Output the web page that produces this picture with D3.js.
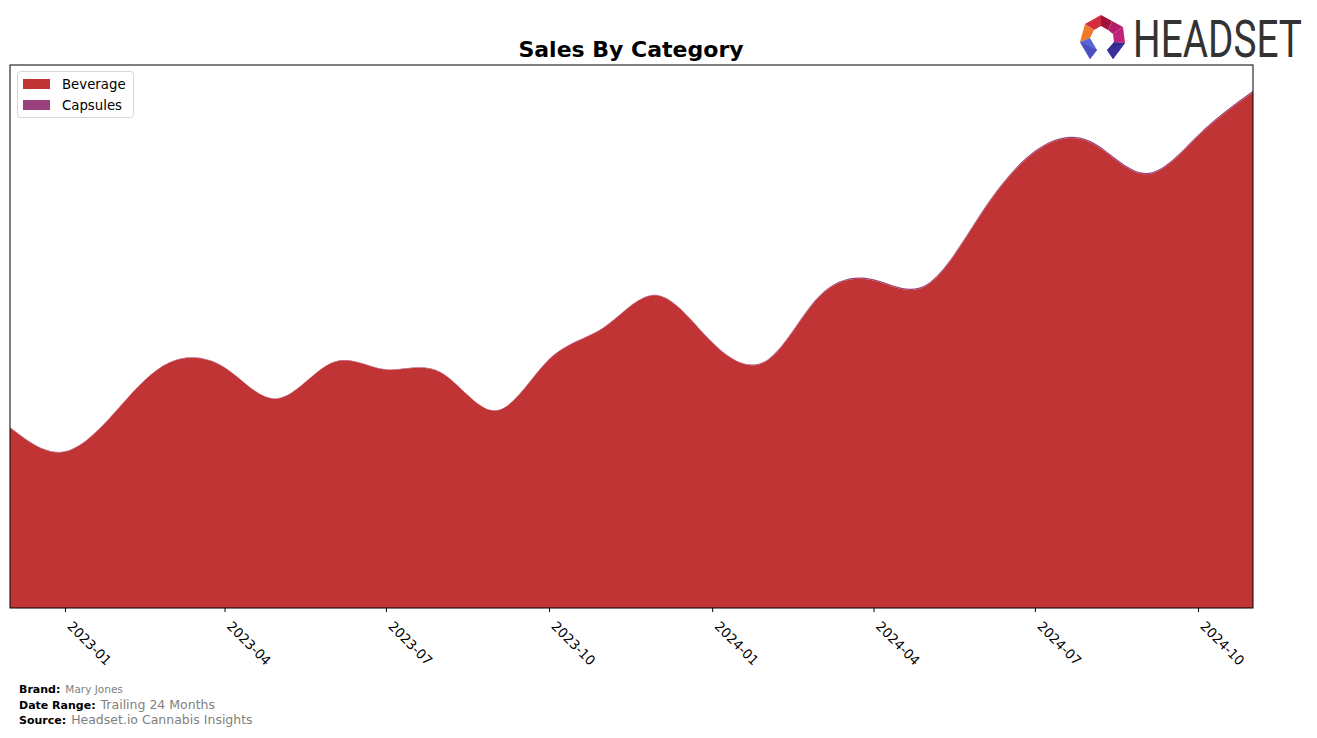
<!DOCTYPE html>
<html>
<head>
<meta charset="utf-8">
<script src="https://cdn.jsdelivr.net/npm/d3@7"></script>
<style>
  html, body { margin: 0; padding: 0; background: #fff; }
  svg { display: block; font-family: "DejaVu Sans", sans-serif; }
</style>
</head>
<body>
<svg id="chart" width="1317" height="738"></svg>
<script>
// ---- data ----
const months = ["2022-12","2023-01","2023-02","2023-03","2023-04","2023-05","2023-06","2023-07",
  "2023-08","2023-09","2023-10","2023-11","2023-12","2024-01","2024-02","2024-03","2024-04",
  "2024-05","2024-06","2024-07","2024-08","2024-09","2024-10","2024-11"];
const categories = ["Beverage", "Capsules"];
const beverage = [180, 156, 201, 245, 240, 209, 245, 238, 235, 197, 248, 280, 312, 265, 247, 310, 327,
  322, 394, 455, 465, 433, 471, 515];
const capsules = [0.4, 0.4, 0.4, 0.4, 0.4, 0.4, 0.4, 0.4, 0.4, 0.4, 0.5, 0.5, 0.6, 0.6, 0.7, 0.9, 1.2,
  1.2, 1.3, 1.4, 1.4, 1.3, 1.3, 1.3];
const tickLabels = ["2023-01","2023-04","2023-07","2023-10","2024-01","2024-04","2024-07","2024-10"];
const colors = ["#c03435", "#9a417d"];

(function () {
// ---- layout ----
const svg = d3.select("#chart");
const pLeft = 10, pRight = 1253, pTop = 65, pBottom = 608;
const parse = d3.timeParse("%Y-%m");
const rows = months.map((m, i) => ({ date: parse(m), Beverage: beverage[i], Capsules: capsules[i] }));

const x = d3.scaleTime().domain([rows[0].date, rows[rows.length - 1].date]).range([pLeft, pRight]);
const maxTotal = d3.max(rows, d => d.Beverage + d.Capsules);
const y = d3.scaleLinear().domain([0, maxTotal * 1.05]).range([pBottom, pTop]);

const stacked = d3.stack().keys(categories)(rows);
const area = d3.area()
  .x(d => x(d.data.date))
  .y0(d => y(d[0]))
  .y1(d => y(d[1]))
  .curve(d3.curveNatural);

svg.append("g").selectAll("path")
  .data(stacked.slice().reverse())
  .join("path")
  .attr("d", area)
  .attr("fill", d => colors[categories.indexOf(d.key)]);

// frame
svg.append("rect").attr("x", pLeft).attr("y", pTop).attr("width", pRight - pLeft).attr("height", pBottom - pTop)
  .attr("fill", "none").attr("stroke", "#000").attr("stroke-width", 1);

// x axis
const tickDates = tickLabels.map(parse);
const xAxis = d3.axisBottom(x).tickValues(tickDates).tickFormat(d3.timeFormat("%Y-%m")).tickSize(4).tickPadding(3);
const gx = svg.append("g").attr("transform", `translate(0,${pBottom})`).call(xAxis);
gx.select(".domain").remove();
gx.selectAll(".tick line").attr("stroke", "#000");
gx.selectAll(".tick text")
  .attr("font-size", 13.3).attr("fill", "#000")
  .attr("font-family", "DejaVu Sans, sans-serif")
  .attr("text-anchor", "start")
  .attr("dy", 0).attr("y", 0)
  .attr("transform", "translate(1,19) rotate(45)");

// title
svg.append("text").attr("x", 631).attr("y", 57).attr("text-anchor", "middle")
  .attr("font-size", 22).attr("font-weight", "bold").attr("fill", "#000").text("Sales By Category");

// legend
const lg = svg.append("g");
lg.append("rect").attr("x", 17.5).attr("y", 71.5).attr("width", 116).attr("height", 46).attr("rx", 3)
  .attr("fill", "#fff").attr("fill-opacity", 0.8).attr("stroke", "#d6d6d6");
categories.forEach((c, i) => {
  lg.append("rect").attr("x", 23).attr("y", 79 + i * 21).attr("width", 27).attr("height", 10).attr("fill", colors[i]);
  lg.append("text").attr("x", 62).attr("y", 89 + i * 21).attr("font-size", 13.3).attr("fill", "#000").text(c);
});

// footer
const foot = [
  ["Brand:", "Mary Jones", 693, 10.5],
  ["Date Range:", "Trailing 24 Months", 709, 12.5],
  ["Source:", "Headset.io Cannabis Insights", 724, 12.5]
];
foot.forEach(([k, v, yy, fs]) => {
  const t = svg.append("text").attr("x", 19).attr("y", yy);
  t.append("tspan").attr("font-size", 11).attr("font-weight", "bold").attr("fill", "#000").text(k);
  t.append("tspan").attr("dx", 5).attr("font-size", fs).attr("fill", "#808080").text(v);
});

// logo
const logo = svg.append("g");
const polys = [
  { pts: [[1101,15],[1112,21],[1108,30],[1101,26]], c: "#a3123d" },
  { pts: [[1101,15],[1101,26],[1094,30],[1085,24]], c: "#d42c3c" },
  { pts: [[1112,21],[1123,27],[1113,34],[1108,30]], c: "#b51e6a" },
  { pts: [[1085,24],[1094,30],[1090,38],[1080,42]], c: "#f07a2a" },
  { pts: [[1123,27],[1125,43],[1114,42],[1113,34]], c: "#c0217a" },
  { pts: [[1080,42],[1090,38],[1097,50],[1090,59]], c: "#5a63d8" },
  { pts: [[1114,42],[1125,43],[1113,59],[1107,50]], c: "#2f2a8c" },
  { pts: [[1080,42],[1097,50],[1090,59]], c: "#4a4fc0" },
  { pts: [[1125,43],[1113,59],[1107,50]], c: "#3a2f9c" }
];
polys.forEach(p => logo.append("polygon").attr("points", p.pts.map(q => q.join(",")).join(" ")).attr("fill", p.c));
const lt = logo.append("text").attr("x", 0).attr("y", 0).attr("font-size", 51)
  .attr("font-family", "Roboto, sans-serif")
  .attr("fill", "#333").text("HEADSET");
const w = lt.node().getComputedTextLength() || 200;
lt.attr("transform", `translate(1133,57) scale(${169 / w},1)`);
})();
</script>
</body>
</html>
